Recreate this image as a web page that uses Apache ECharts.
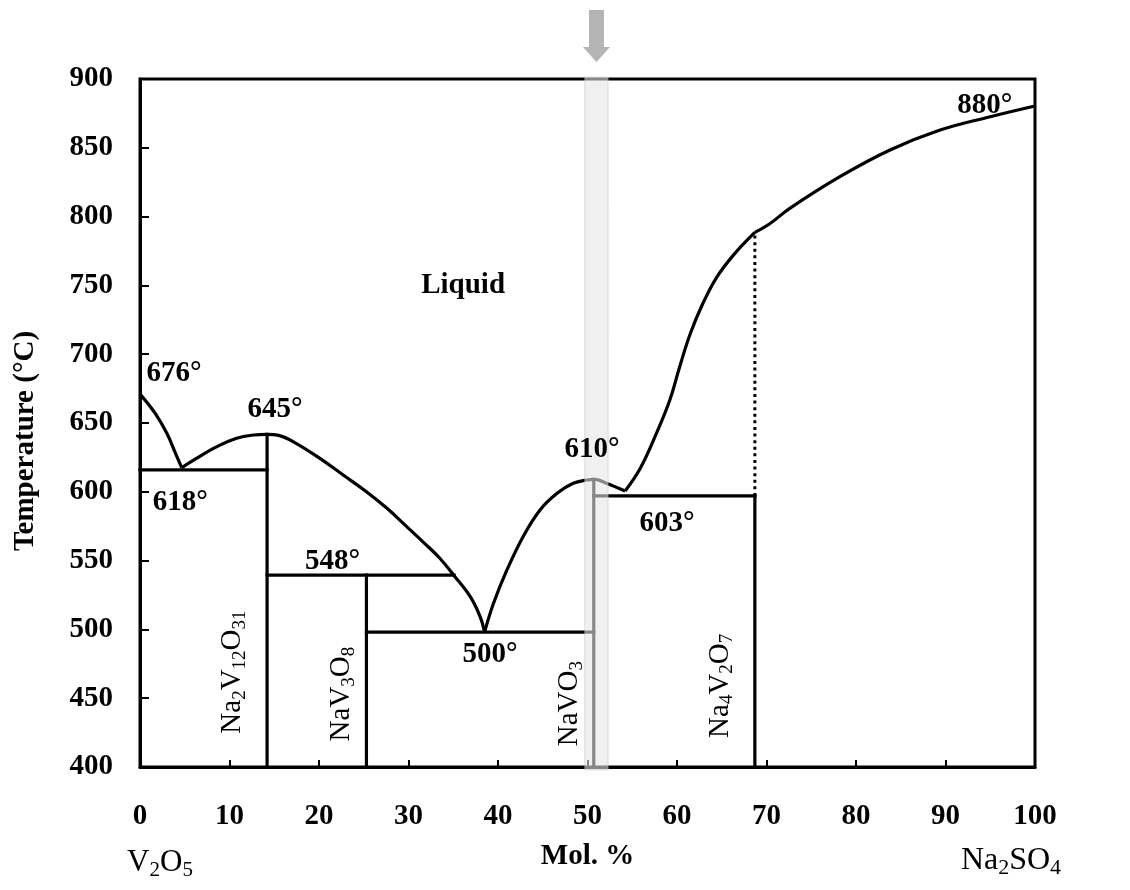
<!DOCTYPE html>
<html><head><meta charset="utf-8">
<script src="https://cdn.jsdelivr.net/npm/echarts@6/dist/echarts.min.js"></script>
<style>html,body{margin:0;padding:0;background:#fff}#c{width:1130px;height:890px}</style>
</head><body><div id="c"></div>
<script>
// ---------- data ----------
const xTickLabels = [0,10,20,30,40,50,60,70,80,90,100];
const yTickLabels = [400,450,500,550,600,650,700,750,800,850,900];

// liquidus branches [mol %, °C]
const liquidusV2O5 = [[0,671],[1.7,657],[3.0,642.5],[3.9,629],[4.66,617.5]];
const liquidusNa2V12O31 = [[4.66,617.5],[6.3,624.3],[8.6,632.8],[10.8,638.9],[12.7,641.3],[14.2,641.8],[15.5,641],[17.1,636.5],[20.1,624.3],[22.7,612.2],[25.3,600.1],[27.6,588],[29.8,574.7],[32.0,561.3],[33.5,551.7],[35.1,539],[36.9,523.8],[38.0,509.3],[38.5,498]];
const liquidusNaVO3 = [[38.5,498],[39.5,519],[41.0,543.2],[42.8,567.4],[44.7,586.8],[46.6,598.9],[48.4,606.2],[49.9,608.6],[50.8,609.1],[52.1,606.2],[54.2,600.6]];
const liquidusNa4V2O7 = [[54.2,600.6],[55.9,617.1],[57.7,642.5],[59.2,666.7],[60.3,690.9],[61.5,715.2],[62.9,737],[64.4,755.5],[66.3,772],[68.7,788.5]];
const liquidusNa2SO4 = [[68.7,788.5],[70.4,795],[72.6,806],[78.2,829],[83.8,848.4],[89.4,862.9],[95.0,872.6],[100,880.4]];

// invariant lines / compound lines
const solidSegments = [
  [[0,616],[14.2,616]],
  [[14.2,400],[14.2,641.8]],
  [[14.2,539.5],[35.1,539.5]],
  [[25.3,400],[25.3,539.5]],
  [[25.3,498],[50.7,498]],
  [[50.7,400],[50.7,609]],
  [[50.7,597],[68.7,597]],
  [[68.7,400],[68.7,597]]
];
const dottedSegment = [[68.7,597],[68.7,788.5]];

// highlighted composition band (mol %)
const bandRange = [49.7, 52.3];

// temperature annotations [x, y, text]
const tempLabels = [
  [3.8,686,'676°'],[15.1,660,'645°'],[4.5,592,'618°'],[21.5,549,'548°'],
  [39.1,482,'500°'],[50.5,631,'610°'],[58.9,577,'603°'],[94.4,881,'880°'],
  [36.1,750,'Liquid']
];
// compound labels [x, y, rich text]
const compoundLabels = [
  [10.3,469,'{m|Na}{s|2}{m|V}{s|12}{m|O}{s|31}'],
  [22.5,453,'{m|NaV}{s|3}{m|O}{s|8}'],
  [48.0,446,'{m|NaVO}{s|3}'],
  [64.8,459,'{m|Na}{s|4}{m|V}{s|2}{m|O}{s|7}']
];

// ---------- chart ----------
const SERIF = '"Liberation Serif", "DejaVu Serif", serif';
const chart = echarts.init(document.getElementById('c'));
function lineSeries(data, extra){
  return Object.assign({type:'line', data:data, showSymbol:false, symbol:'none', silent:true,
    lineStyle:{color:'#000', width:3.2}, z:3, animation:false}, extra||{});
}
const smoothOpt = {smooth:0.4};
const series = [
  lineSeries(liquidusV2O5,smoothOpt),
  lineSeries(liquidusNa2V12O31,smoothOpt),
  lineSeries(liquidusNaVO3,smoothOpt),
  lineSeries(liquidusNa4V2O7,smoothOpt),
  lineSeries(liquidusNa2SO4,smoothOpt)
];
solidSegments.forEach(s => series.push(lineSeries(s,{lineStyle:{color:'#000',width:3.2,cap:'square'}})));
series.push(lineSeries(dottedSegment,{lineStyle:{color:'#000',width:3,type:[3,3.6]}}));
series.push({
  type:'custom', z:10, clip:false, silent:true, animation:false,
  data:[[bandRange[0], bandRange[1]]],
  renderItem:function(params, api){
    const p1 = api.coord([bandRange[0], 900]);
    const p2 = api.coord([bandRange[1], 400]);
    const cx = (p1[0]+p2[0])/2, t = p1[1];
    return {type:'group', children:[
      {type:'rect', shape:{x:p1[0], y:t-2, width:p2[0]-p1[0], height:p2[1]-t+5},
        style:{fill:'rgba(230,230,230,0.59)', stroke:'rgba(190,190,190,0.5)', lineWidth:1}},
      {type:'polygon', shape:{points:[[cx-7.5,t-69],[cx+7.5,t-69],[cx+7.5,t-32],[cx+13.5,t-32],[cx,t-17],[cx-13.5,t-32],[cx-7.5,t-32]]},
        style:{fill:'#b4b4b4'}}
    ]};
  }
});
// temperature / region labels
series.push({
  type:'custom', z:12, clip:false, silent:true, animation:false,
  data: tempLabels,
  renderItem:function(params, api){
    const d = tempLabels[params.dataIndex];
    const p = api.coord([d[0], d[1]]);
    return {type:'text', x:p[0], y:p[1], style:{text:d[2], fill:'#000', fontFamily:SERIF, fontWeight:'bold',
      fontSize:29, align:'center', verticalAlign:'middle'}};
  }
});
// compound labels (rotated)
series.push({
  type:'custom', z:12, clip:false, silent:true, animation:false,
  data: compoundLabels,
  renderItem:function(params, api){
    const d = compoundLabels[params.dataIndex];
    const p = api.coord([d[0], d[1]]);
    return {type:'text', x:p[0], y:p[1], rotation:Math.PI/2, style:{text:d[2], align:'center', verticalAlign:'middle',
      rich:{ m:{fontFamily:SERIF, fontSize:29, fill:'#000'},
             s:{fontFamily:SERIF, fontSize:19, fill:'#000', padding:[15,0,0,0]} }}};
  }
});

const axisFont = {fontFamily:SERIF, fontWeight:'bold', fontSize:29, color:'#000'};
chart.setOption({
  backgroundColor:'#fff',
  animation:false,
  grid:{left:140, right:95, top:79, bottom:123, show:true, borderColor:'#000', borderWidth:3, backgroundColor:'transparent'},
  xAxis:{type:'value', min:0, max:100, interval:10,
    axisLine:{lineStyle:{color:'#000', width:3}},
    axisTick:{inside:true, length:7, lineStyle:{color:'#000', width:2}},
    axisLabel:Object.assign({margin:35, formatter:v => xTickLabels.includes(v) ? String(v) : ''}, axisFont),
    splitLine:{show:false},
    name:'Mol. %', nameLocation:'middle', nameGap:75,
    nameTextStyle:{fontFamily:SERIF, fontWeight:'bold', fontSize:29, color:'#000'}
  },
  yAxis:{type:'value', min:400, max:900, interval:50,
    axisLine:{lineStyle:{color:'#000', width:3}},
    axisTick:{inside:true, length:9, lineStyle:{color:'#000', width:2}},
    axisLabel:Object.assign({margin:27, formatter:v => yTickLabels.includes(v) ? String(v) : ''}, axisFont),
    splitLine:{show:false}
  },
  graphic:[
    {type:'text', x:26, y:441, rotation:Math.PI/2, style:{text:'Temperature (°C)', fontFamily:SERIF, fontWeight:'bold', fontSize:29, fill:'#000', align:'center', verticalAlign:'middle'}},
    {type:'text', x:160, y:863, style:{text:'{m|V}{s|2}{m|O}{s|5}', align:'center', verticalAlign:'middle',
      rich:{m:{fontFamily:SERIF, fontSize:31, fill:'#000'}, s:{fontFamily:SERIF, fontSize:21, fill:'#000', padding:[15,0,0,0]}}}},
    {type:'text', x:1011, y:861, style:{text:'{m|Na}{s|2}{m|SO}{s|4}', align:'center', verticalAlign:'middle',
      rich:{m:{fontFamily:SERIF, fontSize:32, fill:'#000'}, s:{fontFamily:SERIF, fontSize:22, fill:'#000', padding:[15,0,0,0]}}}}
  ],
  series:series
});
</script></body></html>
